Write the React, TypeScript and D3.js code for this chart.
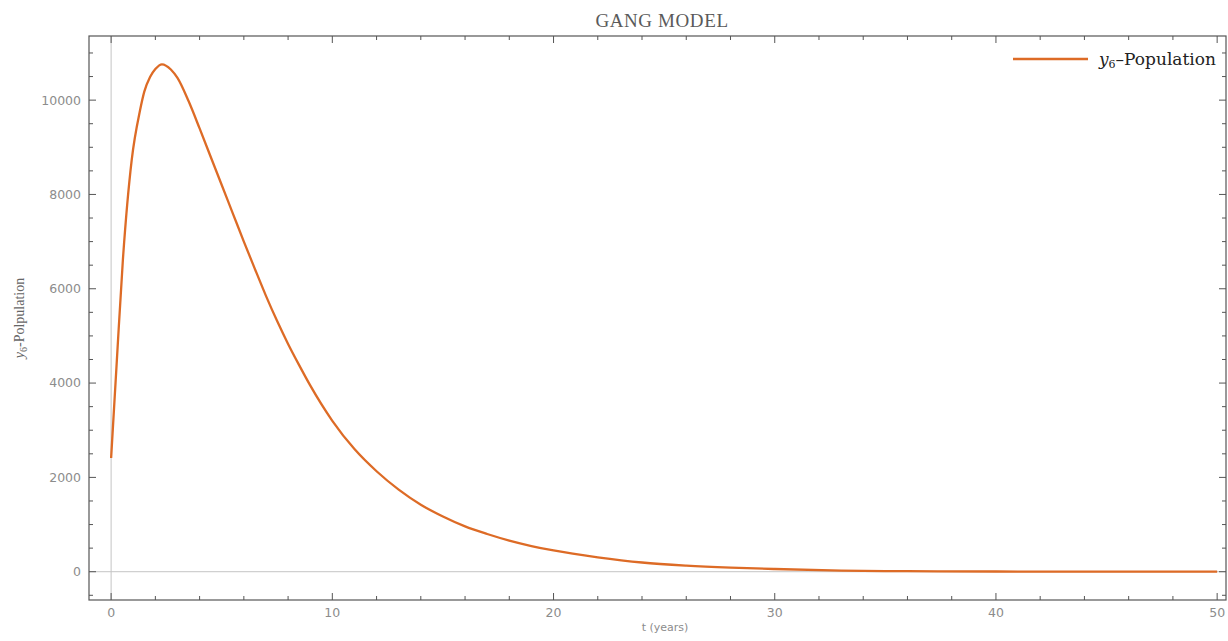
import React from "react";
import * as d3 from "d3";

const tValues = [0, 0.26, 0.53, 0.93, 1.31, 1.5, 1.76, 2.0, 2.3, 2.7, 3.0, 3.5, 4.0, 4.5, 5.0, 5.5, 6.0, 6.5, 7.0, 7.5, 8.0, 8.5, 9.0, 10.0, 11.0, 12.0, 13.0, 14.0, 15.0, 16.0, 17.0, 18.0, 19.0, 20.0, 22.0, 24.0, 26.0, 28.0, 30.0, 33.0, 36.0, 40.0, 45.0, 50.0];
const yValues = [2410, 4490, 6600, 8730, 9790, 10180, 10490, 10660, 10760, 10650, 10470, 9980, 9400, 8800, 8200, 7600, 7000, 6420, 5850, 5320, 4830, 4380, 3950, 3200, 2600, 2130, 1740, 1420, 1170, 960, 800, 660, 545, 450, 305, 195, 130, 87, 57, 24, 11, 4, 1, 0];

const xMajorTicks = [0, 10, 20, 30, 40, 50];
const yMajorTicks = [0, 2000, 4000, 6000, 8000, 10000];

const titleText = "GANG MODEL";
const xLabel = "t (years)";

const W = 1228;
const H = 641;
const L = 89, R = 1226, T = 36, B = 600;

export default function App() {
  const x = d3.scaleLinear().domain([-1, 50.4]).range([L, R]);
  const y = d3.scaleLinear().domain([-600, 11360]).range([B, T]);

  const pts = tValues.map((t, i) => [t, yValues[i]] as [number, number]);
  const line = d3
    .line<[number, number]>()
    .x((d) => x(d[0]))
    .y((d) => y(d[1]))
    .curve(d3.curveMonotoneX);

  const xMinor = d3.range(0, 50.5, 2).filter((v) => v % 10 !== 0);
  const yMinor = d3.range(-500, 11360, 500).filter((v) => v % 2000 !== 0);

  const frameColor = "#555";
  const tickColor = "#555";
  const labelColor = "#8c8c8c";
  const lineColor = "#dd6b26";

  return (
    <div style={{ position: "absolute", left: 0, top: 0 }}>
      <svg width={W} height={H} style={{ display: "block", background: "#fff" }}>
        <line x1={x(0)} x2={x(0)} y1={T} y2={B} stroke="#c4c4c4" strokeWidth={1} />
        <line x1={L} x2={R} y1={y(0)} y2={y(0)} stroke="#c4c4c4" strokeWidth={1} />

        <path d={line(pts) || ""} fill="none" stroke={lineColor} strokeWidth={2.3} strokeLinejoin="round" />

        <rect x={L} y={T} width={R - L} height={B - T} fill="none" stroke={frameColor} strokeWidth={1.2} />

        {xMajorTicks.map((v) => (
          <g key={"xm" + v}>
            <line x1={x(v)} x2={x(v)} y1={B} y2={B - 7} stroke={tickColor} />
            <line x1={x(v)} x2={x(v)} y1={T} y2={T + 7} stroke={tickColor} />
            <text x={x(v)} y={617} textAnchor="middle" fontFamily="DejaVu Sans" fontSize={12.5} fill={labelColor}>
              {v}
            </text>
          </g>
        ))}
        {xMinor.map((v) => (
          <g key={"xn" + v}>
            <line x1={x(v)} x2={x(v)} y1={B} y2={B - 4} stroke={tickColor} />
            <line x1={x(v)} x2={x(v)} y1={T} y2={T + 4} stroke={tickColor} />
          </g>
        ))}

        {yMajorTicks.map((v) => (
          <g key={"ym" + v}>
            <line x1={L} x2={L + 7} y1={y(v)} y2={y(v)} stroke={tickColor} />
            <line x1={R} x2={R - 7} y1={y(v)} y2={y(v)} stroke={tickColor} />
            <text x={81} y={y(v)} dy="0.35em" textAnchor="end" fontFamily="DejaVu Sans" fontSize={12.5} fill={labelColor}>
              {v}
            </text>
          </g>
        ))}
        {yMinor.map((v) => (
          <g key={"yn" + v}>
            <line x1={L} x2={L + 4} y1={y(v)} y2={y(v)} stroke={tickColor} />
            <line x1={R} x2={R - 4} y1={y(v)} y2={y(v)} stroke={tickColor} />
          </g>
        ))}

        <text x={662} y={27} textAnchor="middle" fontFamily="Liberation Serif" fontSize={19} letterSpacing={0.6} fill="#5a5a5a">
          {titleText}
        </text>

        <text x={665} y={631} textAnchor="middle" fontFamily="DejaVu Sans" fontSize={11} fill={labelColor}>
          {xLabel}
        </text>

        <text
          transform="translate(24,318) rotate(-90)"
          textAnchor="middle"
          fontFamily="Liberation Serif"
          fontSize={14}
          fill="#666"
        >
          <tspan fontStyle="italic">y</tspan>
          <tspan fontSize={10} dy={3}>6</tspan>
          <tspan dy={-3}>-Polpulation</tspan>
        </text>

        <line x1={1013} x2={1088} y1={59} y2={59} stroke={lineColor} strokeWidth={2.3} />
        <text x={1099} y={65} fontFamily="DejaVu Serif" fontSize={17} fill="#222">
          <tspan fontStyle="italic">y</tspan>
          <tspan fontSize={11} dy={3}>6</tspan>
          <tspan dy={-3}>{"\u2013Population"}</tspan>
        </text>
      </svg>
    </div>
  );
}
